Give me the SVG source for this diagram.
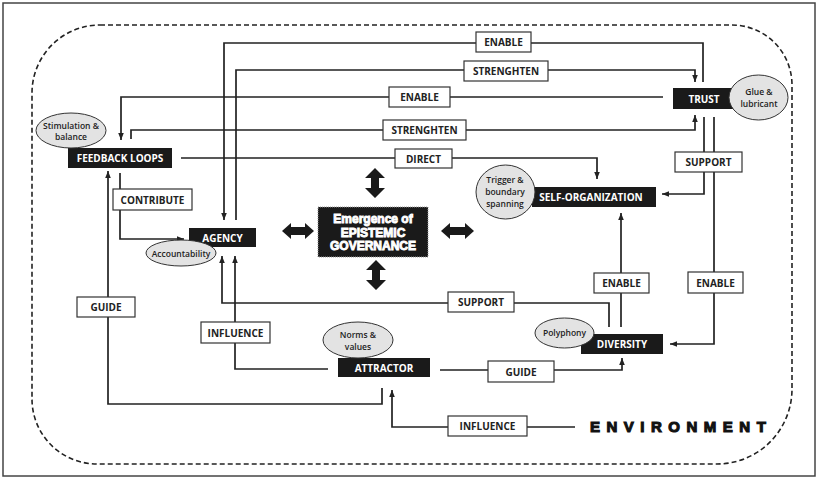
<svg xmlns="http://www.w3.org/2000/svg" width="818" height="486" viewBox="0 0 818 486">
<defs>
<style>
.frame{fill:none;stroke:#444;stroke-width:1.5}
.env{fill:none;stroke:#222;stroke-width:1.6;stroke-dasharray:5 3}
.c{fill:none;stroke:#222;stroke-width:1.7}
.node{fill:#1a1a1a}
.nt{font-family:"Open Sans","Liberation Sans",sans-serif;font-weight:700;font-size:10px;fill:#fff;text-anchor:middle;dominant-baseline:central}
.lb{fill:#fff;stroke:#333;stroke-width:1.2}
.lt{font-family:"Open Sans","Liberation Sans",sans-serif;font-weight:700;font-size:10px;fill:#222;text-anchor:middle;dominant-baseline:central}
.el{fill:#e3e3e3;stroke:#333;stroke-width:1}
.et{font-family:"Open Sans","Liberation Sans",sans-serif;font-weight:600;font-size:8.5px;fill:#222;text-anchor:middle;dominant-baseline:central}
.big{font-family:"Liberation Sans",Arial,sans-serif;font-weight:700;font-size:12px;fill:#fff;stroke:#fff;stroke-width:0.9;text-anchor:middle;dominant-baseline:central}
.dbl{fill:#1a1a1a}
</style>
<marker id="ah" viewBox="0 0 10 10" refX="10" refY="5" markerWidth="7" markerHeight="7" markerUnits="userSpaceOnUse" orient="auto"><path d="M0,1 L10,5 L0,9 z" fill="#222"/></marker>
</defs>
<rect width="818" height="486" fill="#fff"/>
<rect class="frame" x="3" y="3" width="812" height="473"/>
<path class="env" d="M100,25 H732 A60,60 0 0 1 792,85 V389 A75,75 0 0 1 717,464 H97 A65,65 0 0 1 32,399 V93 A68,68 0 0 1 100,25 Z"/>

<g id="connectors">
<path class="c" marker-end="url(#ah)" d="M703,82 V43 H224 V220"/>
<path class="c" marker-end="url(#ah)" d="M236,220 V70 H695 V82"/>
<path class="c" marker-end="url(#ah)" d="M663,97 H121 V140"/>
<path class="c" marker-end="url(#ah)" d="M131,139 V130 H695 V115"/>
<path class="c" marker-end="url(#ah)" d="M181,158 H597 V179"/>
<path class="c" marker-end="url(#ah)" d="M704,117 V194 H662"/>
<path class="c" marker-end="url(#ah)" d="M714,117 V344 H670"/>
<path class="c" marker-end="url(#ah)" d="M120,173 V239 H184"/>
<path class="c" marker-end="url(#ah)" d="M382,388 V404 H108 V171"/>
<path class="c" marker-end="url(#ah)" d="M328,369 H235 V256"/>
<path class="c" marker-end="url(#ah)" d="M609,327 V303 H222 V256"/>
<path class="c" marker-end="url(#ah)" d="M621,327 V213"/>
<path class="c" marker-end="url(#ah)" d="M440,370 H622 V358"/>
<path class="c" marker-end="url(#ah)" d="M575,427 H392 V390"/>
</g>

<g id="labels">
<g id="lbl-enable1"><rect class="lb" x="476" y="32" width="55" height="20"/><text class="lt" x="503.5" y="42">ENABLE</text></g>
<g id="lbl-strenghten1"><rect class="lb" x="464" y="61" width="84" height="20"/><text class="lt" x="506" y="71">STRENGHTEN</text></g>
<g id="lbl-enable2"><rect class="lb" x="389" y="87" width="61" height="20"/><text class="lt" x="419.5" y="97">ENABLE</text></g>
<g id="lbl-strenghten2"><rect class="lb" x="383" y="120" width="83" height="20"/><text class="lt" x="424.5" y="130">STRENGHTEN</text></g>
<g id="lbl-direct"><rect class="lb" x="395" y="149" width="57" height="19"/><text class="lt" x="423.5" y="158.5">DIRECT</text></g>
<g id="lbl-support1"><rect class="lb" x="675" y="152" width="67" height="20"/><text class="lt" x="708.5" y="162">SUPPORT</text></g>
<g id="lbl-contribute"><rect class="lb" x="113" y="189" width="79" height="21"/><text class="lt" x="152.5" y="199.5">CONTRIBUTE</text></g>
<g id="lbl-guide1"><rect class="lb" x="77" y="297" width="58" height="20"/><text class="lt" x="106" y="307">GUIDE</text></g>
<g id="lbl-influence1"><rect class="lb" x="201" y="322" width="69" height="21"/><text class="lt" x="235.5" y="332.5">INFLUENCE</text></g>
<g id="lbl-support2"><rect class="lb" x="448" y="292" width="66" height="20"/><text class="lt" x="481" y="302">SUPPORT</text></g>
<g id="lbl-enable3"><rect class="lb" x="594" y="273" width="55" height="20"/><text class="lt" x="621.5" y="283">ENABLE</text></g>
<g id="lbl-enable4"><rect class="lb" x="688" y="272" width="55" height="21"/><text class="lt" x="715.5" y="282.5">ENABLE</text></g>
<g id="lbl-guide2"><rect class="lb" x="488" y="361" width="66" height="21"/><text class="lt" x="521" y="371.5">GUIDE</text></g>
<g id="lbl-influence2"><rect class="lb" x="448" y="416" width="79" height="20"/><text class="lt" x="487.5" y="426">INFLUENCE</text></g>
</g>

<g id="feedback-loops">
<rect class="node" x="68" y="148" width="104" height="20"/>
<text class="nt" x="120" y="158">FEEDBACK LOOPS</text>
<ellipse class="el" cx="71" cy="130.5" rx="35" ry="17.5"/>
<text class="et" x="71" y="125">Stimulation &amp;</text>
<text class="et" x="71" y="136">balance</text>
</g>

<g id="trust">
<rect class="node" x="673" y="88" width="60" height="21"/>
<text class="nt" x="704" y="98.5">TRUST</text>
<ellipse class="el" cx="758.5" cy="97.5" rx="29.5" ry="22.5"/>
<text class="et" x="759" y="91">Glue &amp;</text>
<text class="et" x="759" y="103">lubricant</text>
</g>

<g id="self-organization">
<rect class="node" x="532" y="187" width="124" height="20"/>
<text class="nt" x="591" y="197">SELF-ORGANIZATION</text>
<ellipse class="el" cx="505.5" cy="192" rx="29.5" ry="27"/>
<text class="et" x="505" y="179.5">Trigger &amp;</text>
<text class="et" x="505" y="191.5">boundary</text>
<text class="et" x="505" y="203.5">spanning</text>
</g>

<g id="agency">
<rect class="node" x="189" y="228" width="67" height="19"/>
<text class="nt" x="222.5" y="237.5">AGENCY</text>
<ellipse class="el" cx="181" cy="253" rx="35" ry="13"/>
<text class="et" x="181" y="253">Accountability</text>
</g>

<g id="diversity">
<rect class="node" x="581" y="334" width="82" height="20"/>
<text class="nt" x="622" y="344">DIVERSITY</text>
<ellipse class="el" cx="564.5" cy="333" rx="29.5" ry="15"/>
<text class="et" x="564.5" y="332">Polyphony</text>
</g>

<g id="attractor">
<rect class="node" x="338" y="358" width="92" height="19"/>
<text class="nt" x="384" y="367.5">ATTRACTOR</text>
<ellipse class="el" cx="358" cy="340" rx="35" ry="18"/>
<text class="et" x="358" y="334">Norms &amp;</text>
<text class="et" x="358" y="346">values</text>
</g>

<g id="emergence">
<rect x="318" y="207" width="110" height="50" fill="#1a1a1a" stroke="#999" stroke-width="1" stroke-dasharray="1 1"/>
<text class="big" x="373" y="219">Emergence of</text>
<text class="big" x="373" y="232.5">EPISTEMIC</text>
<text class="big" x="373" y="246">GOVERNANCE</text>
</g>

<g id="double-arrows">
<polygon class="dbl" points="375,168 385,178 379,178 379,188 385,188 375,198 365,188 371,188 371,178 365,178"/>
<polygon class="dbl" points="376,260 386,270 380,270 380,280 386,280 376,290 366,280 372,280 372,270 366,270"/>
<polygon class="dbl" points="282,231 291,223 291,227 305,227 305,223 314,231 305,239 305,235 291,235 291,239"/>
<polygon class="dbl" points="441,231 450,223 450,227 465,227 465,223 474,231 465,239 465,235 450,235 450,239"/>
</g>

<g id="environment">
<text x="590" y="432" font-family="Liberation Sans,Arial,sans-serif" font-weight="700" font-size="15" letter-spacing="6.5" fill="#111" stroke="#111" stroke-width="1.1">ENVIRONMENT</text>
</g>
</svg>
